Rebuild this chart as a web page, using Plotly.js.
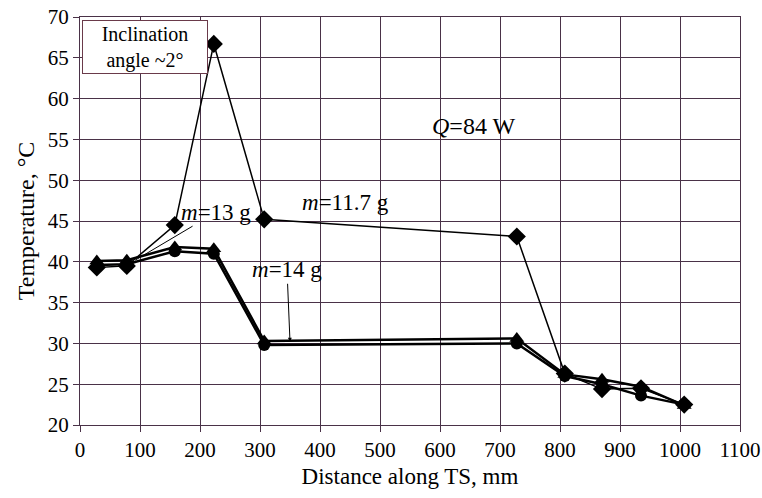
<!DOCTYPE html>
<html>
<head>
<meta charset="utf-8">
<script src="https://cdn.plot.ly/plotly-3.0.1.min.js"></script>
<style>html,body{margin:0;padding:0;background:#fff;}#chart{width:762px;height:498px;}</style>
</head>
<body>
<div id="chart"></div>
<script>
// Distance along TS, mm
const distance = [28, 78, 158, 223, 307, 728, 808, 870, 935, 1007];
// Temperatures, °C
const temp_m11_7 = [39.3, 39.5, 44.5, 66.7, 45.2, 43.1, 26.3, 24.4, 24.5, 22.5];
const temp_m13   = [40.1, 40.2, 41.8, 41.6, 30.3, 30.6, 26.2, 25.6, 24.7, 22.4];
const temp_m14   = [39.6, 39.7, 41.3, 41.0, 29.8, 30.0, 26.0, 25.0, 23.6, 22.5];

const xTicks = [0,100,200,300,400,500,600,700,800,900,1000,1100];
const yTicks = [20,25,30,35,40,45,50,55,60,65,70];

const serif = 'Liberation Serif, Times New Roman, serif';
const gridCol = '#4a3248';

const traces = [
  {x: distance, y: temp_m14, mode: 'lines+markers', name: 'm=14 g',
   line: {color: '#000', width: 2.5}, marker: {symbol: 'circle', size: 12, color: '#000'}},
  {x: distance, y: temp_m13, mode: 'lines+markers', name: 'm=13 g',
   line: {color: '#000', width: 2.5}, marker: {symbol: 'triangle-up', size: 13, color: '#000'}},
  {x: distance, y: temp_m11_7, mode: 'lines+markers', name: 'm=11.7 g',
   line: {color: '#000', width: 1.5}, marker: {symbol: 'diamond', size: 14, color: '#000'}}
];

const layout = {
  width: 762, height: 498,
  margin: {l: 80, r: 22, t: 17, b: 73},
  paper_bgcolor: '#fff', plot_bgcolor: '#fff',
  showlegend: false,
  font: {family: serif, color: '#000', size: 21},
  xaxis: {
    range: [0, 1100], tickvals: xTicks, ticktext: xTicks.map(String),
    showgrid: true, gridcolor: gridCol, gridwidth: 1,
    showline: true, linecolor: gridCol, linewidth: 1, mirror: true,
    ticks: 'outside', ticklen: 6, tickcolor: gridCol, zeroline: false,
    tickfont: {family: serif, size: 21},
    title: {text: 'Distance along TS, mm', font: {family: serif, size: 23}, standoff: 6}
  },
  yaxis: {
    range: [20, 70], tickvals: yTicks, ticktext: yTicks.map(String),
    showgrid: true, gridcolor: gridCol, gridwidth: 1,
    showline: true, linecolor: gridCol, linewidth: 1, mirror: true,
    ticks: 'outside', ticklen: 6, tickcolor: gridCol, zeroline: false,
    tickfont: {family: serif, size: 21},
    title: {text: 'Temperature, °C', font: {family: serif, size: 24}, standoff: 6}
  },
  annotations: [
    {x: 108, y: 66.3, xref: 'x', yref: 'y', text: 'Inclination<br>angle ~2°', showarrow: false,
     font: {family: serif, size: 20, color: '#000'}, bgcolor: '#fff', bordercolor: '#6a3a4a',
     borderwidth: 1, borderpad: 1, width: 122, height: 50, align: 'center'},
    {x: 655, y: 56.6, xref: 'x', yref: 'y', text: '<i>Q</i>=84 W', showarrow: false,
     font: {family: serif, size: 24, color: '#000'}},
    {x: 443, y: 47.3, xref: 'x', yref: 'y', text: '<i>m</i>=11.7 g', showarrow: false,
     font: {family: serif, size: 23, color: '#000'}},
    {x: 92, y: 40.2, xref: 'x', yref: 'y', ax: 81, ay: -48, text: '<i>m</i>=13 g', showarrow: true,
     arrowhead: 0, arrowwidth: 1, arrowcolor: '#000',
     font: {family: serif, size: 23, color: '#000'}},
    {x: 350, y: 30.2, xref: 'x', yref: 'y', ax: -3, ay: -72, text: '<i>m</i>=14 g', showarrow: true,
     arrowhead: 2, arrowsize: 0.8, arrowwidth: 1, arrowcolor: '#000',
     font: {family: serif, size: 23, color: '#000'}}
  ]
};

Plotly.newPlot('chart', traces, layout, {displayModeBar: false, staticPlot: true});
</script>
</body>
</html>
